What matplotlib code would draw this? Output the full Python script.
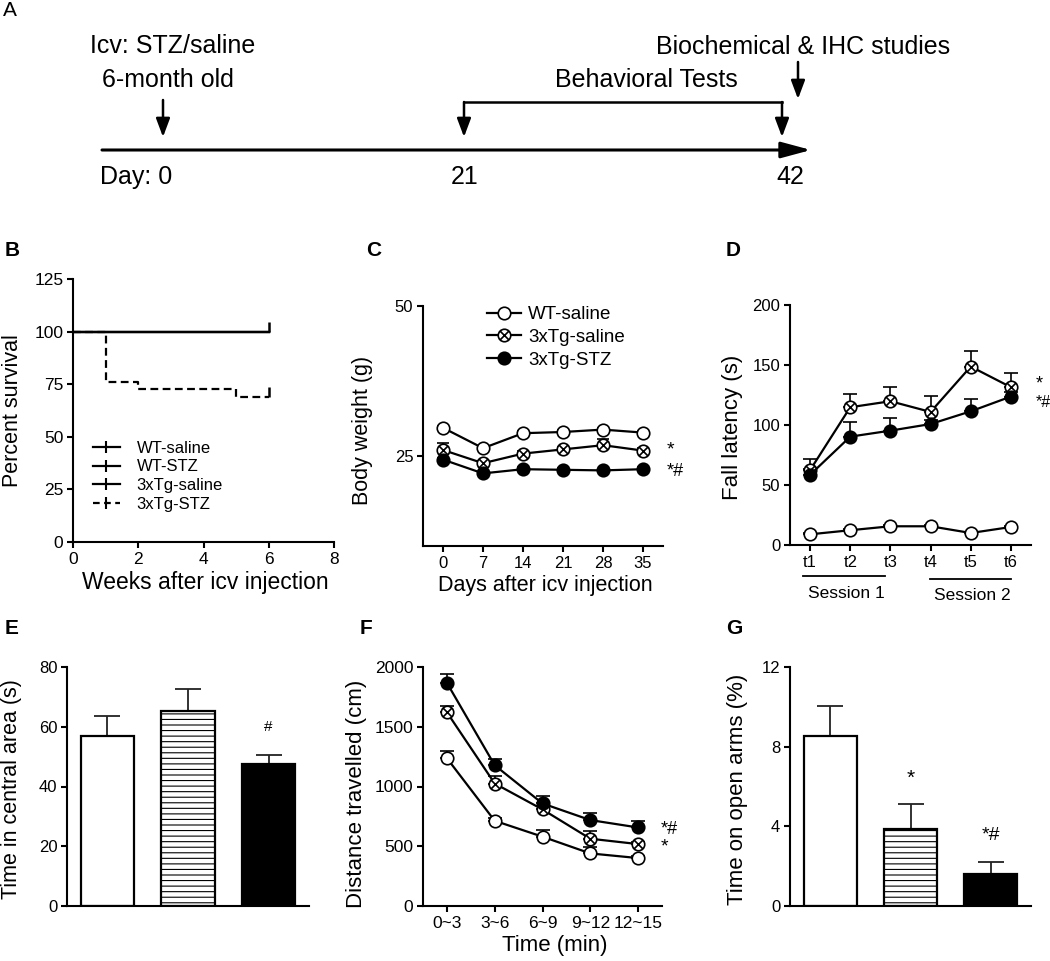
import matplotlib
matplotlib.use('Agg')
import matplotlib.pyplot as plt
import numpy as np
from matplotlib.path import Path
from matplotlib.lines import Line2D
import matplotlib.transforms as mtransforms

plt.rcParams['font.family'] = ['Liberation Sans', 'DejaVu Sans']
plt.rcParams['hatch.linewidth'] = 0.8
plt.rcParams['axes.linewidth'] = 1.5
plt.rcParams['xtick.major.width'] = 1.5
plt.rcParams['ytick.major.width'] = 1.5
plt.rcParams['xtick.major.size'] = 4.5
plt.rcParams['ytick.major.size'] = 4.5

# ---------------- data ----------------
# B: survival
surv_groups = ["WT-saline", "WT-STZ", "3xTg-saline", "3xTg-STZ"]
surv_weeks_ctrl = [0, 6]
surv_ctrl = [100, 100]
surv_weeks_stz = [0, 1, 2, 5, 6]
surv_stz = [100, 76, 72.5, 69, 69]

# C: body weight
bw_days = [0, 7, 14, 21, 28, 35]
bw_wt_saline = [29.7, 26.3, 28.8, 29.0, 29.4, 28.9]
bw_wt_saline_err = [0.3, 0.3, 0.3, 0.3, 0.3, 0.3]
bw_tg_saline = [26.0, 23.8, 25.4, 26.1, 26.8, 25.9]
bw_tg_saline_err = [1.2, 0.4, 0.4, 0.4, 1.1, 0.4]
bw_tg_stz = [24.4, 22.1, 22.8, 22.7, 22.6, 22.8]
bw_tg_stz_err = [0.3, 0.3, 0.3, 0.3, 0.3, 0.3]

# D: rotarod fall latency
trials = ["t1", "t2", "t3", "t4", "t5", "t6"]
fl_wt_saline = [8.9, 12.3, 15.6, 15.6, 10.0, 15.0]
fl_wt_saline_err = [1, 1, 1, 1, 1, 1]
fl_tg_saline = [62.4, 114.8, 119.8, 110.9, 148.7, 131.5]
fl_tg_saline_err = [9, 11, 12, 13, 13, 11.5]
fl_tg_stz = [58.5, 90.3, 95.3, 100.8, 111.4, 123.7]
fl_tg_stz_err = [5, 12, 10.5, 3, 10, 4]

# E: open field, time in central area
bar_groups = ["WT-saline", "3xTg-saline", "3xTg-STZ"]
central_time = [56.8, 65.3, 47.5]
central_time_err = [6.7, 7.2, 3.2]

# F: distance travelled
time_bins = ["0~3", "3~6", "6~9", "9~12", "12~15"]
dist_wt_saline = [1237, 713, 580, 440, 401]
dist_wt_saline_err = [56, 20, 55, 50, 20]
dist_tg_saline = [1621, 1025, 808, 563, 518]
dist_tg_saline_err = [53, 62, 30, 67, 20]
dist_tg_stz = [1867, 1178, 858, 719, 657]
dist_tg_stz_err = [72, 56, 61, 61, 56]

# G: elevated plus maze
open_arm_time = [8.52, 3.86, 1.59]
open_arm_time_err = [1.51, 1.24, 0.62]

# ---------------- figure ----------------
W, H = 1050, 961
fig = plt.figure(figsize=(W / 100, H / 100), dpi=100)
fig.patch.set_facecolor('white')


def px_axes(l, t, r, b):
    return fig.add_axes([l / W, 1 - b / H, (r - l) / W, (b - t) / H])


def style(ax, tick_fs=12):
    for s in ['top', 'right']:
        ax.spines[s].set_visible(False)
    ax.tick_params(axis='both', direction='out', labelsize=tick_fs, pad=2.5, colors='k')


c = np.sqrt(0.5)
crossed = Path.make_compound_path(
    Path.unit_circle(),
    Path([(-c, -c), (c, c), (-c, c), (c, -c)],
         [Path.MOVETO, Path.LINETO, Path.MOVETO, Path.LINETO]))

MS = 9
MEW = 1.2
LW = 1.6
series_style = {
    'WT-saline': dict(marker='o', mfc='white', mec='k'),
    '3xTg-saline': dict(marker=crossed, mfc='white', mec='k'),
    '3xTg-STZ': dict(marker='o', mfc='k', mec='k'),
}


def line_err(ax, x, y, err, name, capsize=4.5):
    x = np.asarray(x, float)
    y = np.asarray(y, float)
    err = np.asarray(err, float)
    ax.errorbar(x, y, yerr=[np.zeros_like(err), err], fmt='none', ecolor='k',
                elinewidth=1.2, capsize=capsize, capthick=1.2, zorder=2)
    ax.plot(x, y, '-', color='k', lw=LW, ms=MS, mew=MEW, zorder=3,
            label=name, **series_style[name])


# ---------------- Panel A: timeline schematic ----------------
axA = fig.add_axes([0, 1 - 200 / H, 1, 200 / H])
axA.set_xlim(0, W)
axA.set_ylim(200, 0)
axA.axis('off')
fsA = 18
axA.text(90, 46, "Icv: STZ/saline", fontsize=fsA, ha='left', va='center')
axA.text(102, 80, "6-month old", fontsize=fsA, ha='left', va='center')
axA.text(646, 80, "Behavioral Tests", fontsize=fsA, ha='center', va='center')
axA.text(656, 47, "Biochemical & IHC studies", fontsize=fsA, ha='left', va='center')
axA.text(100, 177, "Day: 0", fontsize=fsA, ha='left', va='center')
axA.text(465, 177, "21", fontsize=fsA, ha='center', va='center')
axA.text(790, 177, "42", fontsize=fsA, ha='center', va='center')
arrow_kw = dict(arrowstyle='-|>,head_length=0.8,head_width=0.3', lw=1.8, color='k',
                mutation_scale=14, shrinkA=0, shrinkB=0)
axA.annotate('', xy=(811, 150), xytext=(102, 150),
             arrowprops=dict(arrowstyle='-|>,head_length=1.3,head_width=0.35', lw=2.2,
                             color='k', mutation_scale=14, shrinkA=0, shrinkB=0))
axA.annotate('', xy=(163, 137), xytext=(163, 100), arrowprops=arrow_kw)
axA.plot([464, 782], [102, 102], color='k', lw=1.8, solid_capstyle='projecting')
axA.annotate('', xy=(464, 137), xytext=(464, 102), arrowprops=arrow_kw)
axA.annotate('', xy=(782, 137), xytext=(782, 102), arrowprops=arrow_kw)
axA.annotate('', xy=(798, 99), xytext=(798, 62), arrowprops=arrow_kw)

# ---------------- Panel B: survival ----------------
axB = px_axes(73, 279, 334, 542)
style(axB, 12.5)
tick_up = Path([(0, 0), (0, 1)], [Path.MOVETO, Path.LINETO])
for g in surv_groups[:3]:
    axB.step(surv_weeks_ctrl, surv_ctrl, where='post', color='k', lw=LW)
axB.plot(surv_weeks_ctrl[-1:], surv_ctrl[-1:], marker=tick_up, ms=14, mew=1.8,
         color='k', ls='none')
axB.step(surv_weeks_stz, surv_stz, where='post', color='k', lw=LW, ls=(0, (3.5, 2)))
axB.plot(surv_weeks_stz[-1:], surv_stz[-1:], marker=tick_up, ms=14, mew=1.8,
         color='k', ls='none')
axB.set_xlim(0, 8)
axB.set_ylim(0, 125)
axB.set_xticks([0, 2, 4, 6, 8])
axB.set_yticks([0, 25, 50, 75, 100, 125])
axB.set_xlabel("Weeks after icv injection", fontsize=16.5)
axB.set_ylabel("Percent survival", fontsize=15.5)
axB.yaxis.set_label_coords(-0.19, 0.5)
axB.xaxis.set_label_coords(0.506, -0.11)
handles = [Line2D([], [], color='k', lw=LW, marker='|', ms=9, mew=1.5) for _ in range(3)]
handles.append(Line2D([], [], color='k', lw=LW, ls=(0, (3, 2)), marker='|', ms=9, mew=1.5))
axB.legend(handles, surv_groups, loc='upper left', bbox_to_anchor=(0.077, 0.385),
           frameon=False, fontsize=12, handlelength=1.6, handletextpad=1.0,
           labelspacing=0.22, borderpad=0, borderaxespad=0)

# ---------------- Panel C: body weight ----------------
axC = px_axes(423, 306, 663, 546)
style(axC, 12)
line_err(axC, bw_days, bw_wt_saline, bw_wt_saline_err, 'WT-saline')
line_err(axC, bw_days, bw_tg_saline, bw_tg_saline_err, '3xTg-saline')
line_err(axC, bw_days, bw_tg_stz, bw_tg_stz_err, '3xTg-STZ')
axC.set_xlim(-3.5, 38.5)
axC.set_ylim(10, 50)
axC.set_xticks(bw_days)
axC.set_yticks([25, 50])
axC.set_xlabel("Days after icv injection", fontsize=15.5)
axC.set_ylabel("Body weight (g)", fontsize=15.5)
axC.yaxis.set_label_coords(-0.21, 0.483)
axC.xaxis.set_label_coords(0.51, -0.12)
axC.legend(loc='upper left', bbox_to_anchor=(0.265, 1.0), frameon=False,
           fontsize=13.5, handlelength=1.85, handletextpad=0.35, labelspacing=0.3,
           borderpad=0, borderaxespad=0)
axC.text(39.1, 26.0, "*", fontsize=14, ha='left', va='center')
axC.text(39.1, 22.4, "*#", fontsize=13, ha='left', va='center')

# ---------------- Panel D: fall latency ----------------
axD = px_axes(790, 305, 1031, 545)
style(axD, 12)
xd = np.arange(1, len(trials) + 1)
line_err(axD, xd, fl_wt_saline, fl_wt_saline_err, 'WT-saline', capsize=4.8)
line_err(axD, xd, fl_tg_saline, fl_tg_saline_err, '3xTg-saline', capsize=4.8)
line_err(axD, xd, fl_tg_stz, fl_tg_stz_err, '3xTg-STZ', capsize=4.8)
axD.set_xlim(0.5, 6.5)
axD.set_ylim(0, 200)
axD.set_xticks(xd)
axD.set_xticklabels(trials)
axD.set_yticks([0, 50, 100, 150, 200])
axD.set_ylabel("Fall latency (s)", fontsize=16)
axD.yaxis.set_label_coords(-0.195, 0.49)
axD.text(6.62, 134, "*", fontsize=13, ha='left', va='center', clip_on=False)
axD.text(6.62, 119, "*#", fontsize=11.5, ha='left', va='center', clip_on=False)
trans = mtransforms.blended_transform_factory(axD.transData, axD.transAxes)
sessions = ["Session 1", "Session 2"]
session_lines = [(0.83, 2.87), (3.99, 6.0)]
session_y = [-0.13, -0.142]
for name, (s0, s1), yy in zip(sessions, session_lines, session_y):
    axD.plot([s0, s1], [yy, yy], color='k', lw=1.3, transform=trans, clip_on=False)
    axD.text((s0 + s1) / 2 + 0.05, yy - 0.07, name, fontsize=12.5, ha='center',
             va='center', transform=trans)

# ---------------- Panel E: time in central area ----------------
bar_fc = ['white', 'white', 'black']
bar_hatch = [None, '---', None]
xb = np.arange(len(bar_groups))


def bar_panel(ax, vals, errs, ymax, yticks):
    ax.errorbar(xb, vals, yerr=[np.zeros(len(errs)), errs], fmt='none', ecolor='#222222',
                elinewidth=1.3, capsize=9.5, capthick=1.3, zorder=1)
    for i in range(len(vals)):
        ax.bar(xb[i], vals[i], width=0.66, color=bar_fc[i], edgecolor='k', lw=1.6,
               hatch=bar_hatch[i], zorder=2)
    ax.set_xlim(-0.5, 2.5)
    ax.set_ylim(0, ymax)
    ax.set_xticks([])
    ax.set_yticks(yticks)


axE = px_axes(67, 667, 309, 906)
style(axE, 12)
bar_panel(axE, central_time, central_time_err, 80, [0, 20, 40, 60, 80])
axE.set_ylabel("Time in central area (s)", fontsize=15.5)
axE.yaxis.set_label_coords(-0.185, 0.49)
axE.text(2, 59.9, "#", fontsize=11, ha='center', va='center')

# ---------------- Panel F: distance travelled ----------------
axF = px_axes(423, 667, 662, 906)
style(axF, 12.5)
xf = np.arange(len(time_bins))
line_err(axF, xf, dist_wt_saline, dist_wt_saline_err, 'WT-saline', capsize=4.8)
line_err(axF, xf, dist_tg_saline, dist_tg_saline_err, '3xTg-saline', capsize=4.8)
line_err(axF, xf, dist_tg_stz, dist_tg_stz_err, '3xTg-STZ', capsize=4.8)
axF.set_xlim(-0.5, 4.5)
axF.set_ylim(0, 2000)
axF.set_xticks(xf)
axF.set_xticklabels(time_bins)
axF.set_yticks([0, 500, 1000, 1500, 2000])
axF.set_xlabel("Time (min)", fontsize=16)
axF.set_ylabel("Distance travelled (cm)", fontsize=16)
axF.yaxis.set_label_coords(-0.235, 0.47)
axF.xaxis.set_label_coords(0.55, -0.12)
axF.text(4.47, 640, "*#", fontsize=13, ha='left', va='center', clip_on=False)
axF.text(4.47, 495, "*", fontsize=14, ha='left', va='center', clip_on=False)

# ---------------- Panel G: open arms ----------------
axG = px_axes(790, 667, 1031, 906)
style(axG, 12)
bar_panel(axG, open_arm_time, open_arm_time_err, 12, [0, 4, 8, 12])
axG.set_ylabel("Time on open arms (%)", fontsize=16)
axG.yaxis.set_label_coords(-0.174, 0.49)
axG.text(1, 6.4, "*", fontsize=15, ha='center', va='center')
axG.text(2, 3.55, "*#", fontsize=14, ha='center', va='center')

# ---------------- panel letters ----------------
fig.text(3 / W, 1 - 11 / H, "A", fontsize=15, ha='left', va='center')
for lab, (x, y) in {"B": (5, 250), "C": (366, 250), "D": (726, 250),
                    "E": (5, 628), "F": (360, 628), "G": (726, 628)}.items():
    fig.text(x / W, 1 - y / H, lab, fontsize=15, fontweight='bold', ha='left', va='center')

fig.savefig('out.png', dpi=100, facecolor='white')
